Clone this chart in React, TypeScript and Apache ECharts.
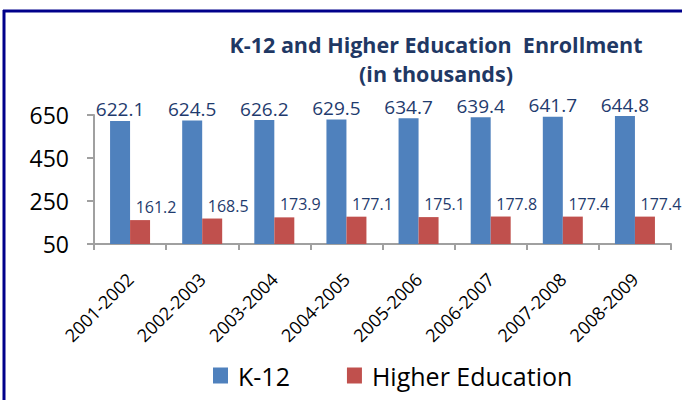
import React, { useEffect, useRef } from "react";
import * as echarts from "echarts";

const categories = ["2001-2002", "2002-2003", "2003-2004", "2004-2005", "2005-2006", "2006-2007", "2007-2008", "2008-2009"];
const k12 = [622.1, 624.5, 626.2, 629.5, 634.7, 639.4, 641.7, 644.8];
const higherEd = [161.2, 168.5, 173.9, 177.1, 175.1, 177.8, 177.4, 177.4];
const seriesNames = ["K-12", "Higher Education"];
const titleLines = ["K-12 and Higher Education  Enrollment", "(in thousands)"];

const FONT = "'Open Sans', sans-serif";

export default function App() {
  const ref = useRef<HTMLDivElement>(null);
  useEffect(() => {
    if (!ref.current) return;
    const chart = echarts.init(ref.current, null, { renderer: "svg" });
    chart.setOption({
      animation: false,
      backgroundColor: "#ffffff",
      textStyle: { fontFamily: FONT },
      title: {
        text: titleLines.join("\n"),
        left: 431,
        top: 25,
        textAlign: "center",
        textStyle: { fontSize: 21.5, fontWeight: "bold", color: "#1F3864", lineHeight: 29, fontFamily: FONT },
      },
      legend: {
        data: seriesNames,
        left: 208,
        top: 358,
        icon: "rect",
        itemWidth: 15,
        itemHeight: 16,
        itemGap: 57,
        textStyle: { fontSize: 25, color: "#000", fontFamily: FONT, padding: [4, 0, 0, 5] },
      },
      grid: { left: 94, right: 11, top: 115, bottom: 156 },
      xAxis: {
        type: "category",
        data: categories,
        axisLine: { lineStyle: { color: "#A0A0A0", width: 2 } },
        axisTick: { show: true, length: 6, lineStyle: { color: "#A0A0A0", width: 2 } },
        axisLabel: { rotate: 45, fontSize: 18, color: "#000", margin: 32, fontFamily: FONT },
      },
      yAxis: {
        type: "value",
        min: 50,
        max: 650,
        interval: 200,
        splitLine: { show: false },
        axisLine: { show: true, lineStyle: { color: "#A0A0A0", width: 2 } },
        axisTick: { show: true, length: 7, lineStyle: { color: "#A0A0A0", width: 2 } },
        axisLabel: { fontSize: 23, color: "#000", margin: 25, fontFamily: FONT },
      },
      series: [
        {
          name: seriesNames[0],
          type: "bar",
          data: k12,
          barWidth: 20,
          barGap: "0%",
          itemStyle: { color: "#4F81BD" },
          label: { show: true, position: "top", distance: 2, fontSize: 19, color: "#1F3B6E", fontFamily: FONT },
        },
        {
          name: seriesNames[1],
          type: "bar",
          data: higherEd,
          barWidth: 20,
          barGap: "0%",
          itemStyle: { color: "#C0504D" },
          label: { show: true, position: "top", distance: 5, offset: [16, 0], fontSize: 16, color: "#1F3B6E", fontFamily: FONT },
        },
      ],
      graphic: [
        { type: "line", shape: { x1: 3, y1: 11, x2: 682, y2: 11 }, style: { stroke: "#00008B", lineWidth: 3 } },
        { type: "line", shape: { x1: 4, y1: 10, x2: 4, y2: 400 }, style: { stroke: "#00008B", lineWidth: 3 } },
      ],
    });
    return () => chart.dispose();
  }, []);
  return <div ref={ref} style={{ position: "fixed", left: 0, top: 0, width: 682, height: 400 }} />;
}
